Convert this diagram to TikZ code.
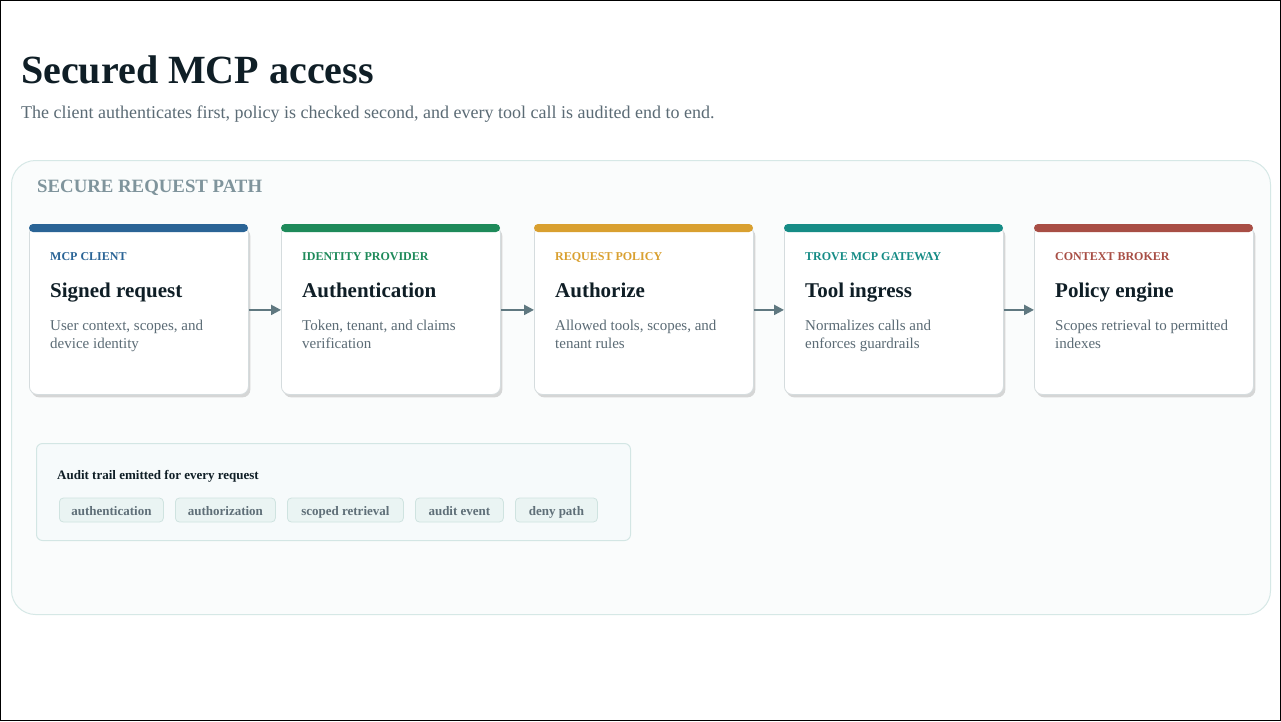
\documentclass[tikz,border=0pt]{standalone}
\usepackage{fontspec}
\setmainfont{Liberation Serif}
\usetikzlibrary{shadows,arrows.meta}
\definecolor{ink}{HTML}{0F1E26}
\definecolor{sub}{HTML}{5B6B75}
\definecolor{sect}{HTML}{7F949C}
\definecolor{panelfill}{HTML}{FAFCFC}
\definecolor{panelline}{HTML}{D6E8E6}
\definecolor{cardline}{HTML}{D5DCDE}
\definecolor{arrowc}{HTML}{5F7880}
\definecolor{auditfill}{HTML}{F6FAFB}
\definecolor{auditline}{HTML}{D3E6E4}
\definecolor{chipfill}{HTML}{EAF4F3}
\definecolor{chipline}{HTML}{CFE3E0}
\definecolor{chiptext}{HTML}{5F6F78}
\definecolor{cblue}{HTML}{2A6496}
\definecolor{cgreen}{HTML}{1E8A5A}
\definecolor{cgold}{HTML}{D9A030}
\definecolor{cteal}{HTML}{168C86}
\definecolor{cred}{HTML}{A84E45}
\tikzset{
  cardbox/.style={draw=cardline, line width=0.8pt, fill=white, rounded corners=8pt,
    minimum width=219pt, minimum height=169pt, anchor=north west, inner sep=0pt,
    drop shadow={opacity=0.3, shadow xshift=2pt, shadow yshift=-3pt}},
  cardlabel/.style={anchor=base west, inner sep=0pt, font=\fontsize{12}{14}\selectfont\bfseries},
  cardtitle/.style={anchor=base west, inner sep=0pt, text=ink, font=\fontsize{21}{25}\selectfont\bfseries},
  carddesc/.style={anchor=base west, inner sep=0pt, text=sub, font=\fontsize{15}{18}\selectfont},
  arr/.style={draw=arrowc, line width=2.2pt, -{Triangle[length=10pt,width=10pt]}},
  chip/.style={draw=chipline, fill=chipfill, rounded corners=4pt, line width=0.8pt,
    text=chiptext, font=\fontsize{13}{15}\selectfont\bfseries, minimum height=24pt,
    text height=10pt, text depth=0pt, inner xsep=0pt, anchor=west},
}
\begin{document}
\begin{tikzpicture}[x=1pt,y=-1pt]
\useasboundingbox (0,0) rectangle (1281,721);
\fill[white] (0,0) rectangle (1281,721);
\draw[black, line width=1.2pt] (0.6,0.6) rectangle (1280.4,720.4);
\node[anchor=base west, inner sep=0pt, text=ink, font=\fontsize{40}{44}\selectfont\bfseries] (title) at (21,83) {Secured MCP access};
\node[anchor=base west, inner sep=0pt, text=sub, font=\fontsize{18}{21}\selectfont] (subtitle) at (21,118) {The client authenticates first, policy is checked second, and every tool call is audited end to end.};
\node[draw=panelline, fill=panelfill, line width=1pt, rounded corners=24pt, minimum width=1259pt, minimum height=454pt, anchor=north west, inner sep=0pt] (panel) at (11,160) {};
\node[anchor=base west, inner sep=0pt, text=sect, font=\fontsize{18.8}{22}\selectfont\bfseries] (secthead) at (37,192) {SECURE REQUEST PATH};
% cards
\foreach \i/\x/\col/\lab/\ttl/\da/\db in {
  1/29/cblue/MCP CLIENT/Signed request/{User context, scopes, and}/{device identity},
  2/281/cgreen/IDENTITY PROVIDER/Authentication/{Token, tenant, and claims}/{verification},
  3/534/cgold/REQUEST POLICY/Authorize/{Allowed tools, scopes, and}/{tenant rules},
  4/784/cteal/TROVE MCP GATEWAY/Tool ingress/{Normalizes calls and}/{enforces guardrails},
  5/1034/cred/CONTEXT BROKER/Policy engine/{Scopes retrieval to permitted}/{indexes}}{
  \node[cardbox] (c\i) at (\x,225) {};
  \fill[\col, rounded corners=4pt] (\x,224) rectangle ++(219,8);
  \node[cardlabel, text=\col] (l\i) at (\x+21,260) {\lab};
  \node[cardtitle] (t\i) at (\x+21,297) {\ttl};
  \node[carddesc] (da\i) at (\x+21,330) {\da};
  \node[carddesc] (db\i) at (\x+21,348) {\db};
}
\foreach \a/\b in {1/2,2/3,3/4,4/5}{
  \draw[arr] (c\a.east) -- (c\b.west);
}
% audit box
\node[draw=auditline, fill=auditfill, line width=1pt, rounded corners=6pt, minimum width=594pt, minimum height=97pt, anchor=north west, inner sep=0pt] (audit) at (36,443) {};
\node[anchor=base west, inner sep=0pt, text=ink, font=\fontsize{13}{15}\selectfont\bfseries] (audithead) at (57,479) {Audit trail emitted for every request};
\node[chip, minimum width=104pt] (k1) at (59,510) {authentication};
\node[chip, minimum width=100pt] (k2) at (175,510) {authorization};
\node[chip, minimum width=116pt] (k3) at (287,510) {scoped retrieval};
\node[chip, minimum width=88pt] (k4) at (415,510) {audit event};
\node[chip, minimum width=82pt] (k5) at (515,510) {deny path};
\end{tikzpicture}
\end{document}
